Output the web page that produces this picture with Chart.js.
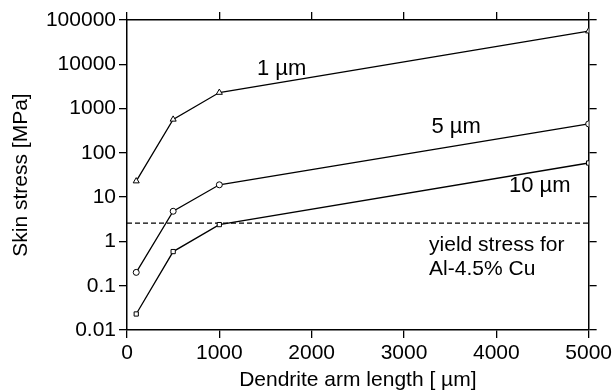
<!DOCTYPE html>
<html><head><meta charset="utf-8">
<script src="https://cdn.jsdelivr.net/npm/chart.js@4"></script>
<style>html,body{margin:0;padding:0;background:#fff}</style>
</head><body>
<canvas id="c" width="615" height="391"></canvas>
<script>
// ---- data ----
const armLength = [100, 500, 1000, 5000];
const stress1um = [23, 570, 2300, 56000];
const stress5um = [0.2, 4.8, 19, 450];
const stress10um = [0.023, 0.59, 2.4, 59];
const yieldX = [0, 5000];
const yieldStress = [2.6, 2.6];
const xTicks = [0, 1000, 2000, 3000, 4000, 5000];
const yTicks = [0.01, 0.1, 1, 10, 100, 1000, 10000, 100000];
const seriesNames = ['1 µm', '5 µm', '10 µm'];
const yieldText = ['yield stress for', 'Al-4.5% Cu'];

const FONT = 'Liberation Sans, Arial, sans-serif';

function pts(xs, ys) { return xs.map((x, i) => ({x: x, y: ys[i]})); }

const annotations = [
  {text: seriesNames[0], x: 1674, y: 7800, align: 'center', size: 22},
  {text: seriesNames[1], x: 3564, y: 385, align: 'center', size: 22},
  {text: seriesNames[2], x: 4471, y: 17.9, align: 'center', size: 22},
  {text: yieldText[0], x: 3272, y: 0.83, align: 'left', size: 21},
  {text: yieldText[1], x: 3272, y: 0.239, align: 'left', size: 21}
];

const annotationPlugin = {
  id: 'annot',
  afterDatasetsDraw(chart) {
    const ctx = chart.ctx, xs = chart.scales.x, ys = chart.scales.y;
    ctx.save();
    ctx.fillStyle = '#000';
    ctx.textBaseline = 'middle';
    annotations.forEach(a => {
      ctx.font = a.size + 'px ' + FONT;
      ctx.textAlign = a.align;
      ctx.fillText(a.text, xs.getPixelForValue(a.x), ys.getPixelForValue(a.y));
    });
    ctx.restore();
  }
};

function series(label, data, style) {
  return {
    label: label, data: data, borderColor: '#000', borderWidth: 1.3,
    pointStyle: style, pointRadius: style === 'triangle' ? 3.5 : 3,
    pointBackgroundColor: '#fff', pointBorderColor: '#000', pointBorderWidth: 1,
    tension: 0, clip: 0, fill: false
  };
}

const setX = s => { s.ticks = xTicks.map(v => ({value: v})); };
const setY = s => { s.ticks = yTicks.map(v => ({value: v})); };
const gridOpts = {drawOnChartArea: false, drawTicks: true, tickLength: 8, color: '#000', lineWidth: 1.3};
const borderOpts = {display: true, color: '#000', width: 1.5};

new Chart(document.getElementById('c'), {
  type: 'line',
  data: {
    datasets: [
      series(seriesNames[0], pts(armLength, stress1um), 'triangle'),
      series(seriesNames[1], pts(armLength, stress5um), 'circle'),
      series(seriesNames[2], pts(armLength, stress10um), 'rect'),
      {label: 'yield', data: pts(yieldX, yieldStress), borderColor: '#000', borderWidth: 1.3,
       borderDash: [5, 3], pointRadius: 0, tension: 0, fill: false}
    ]
  },
  options: {
    responsive: false, animation: false, devicePixelRatio: 1,
    layout: {padding: 0},
    plugins: {legend: {display: false}, tooltip: {enabled: false}},
    scales: {
      x: {
        type: 'linear', position: 'bottom', min: 0, max: 5000,
        afterBuildTicks: setX,
        afterFit: s => { s.height = 61; },
        grid: gridOpts, border: borderOpts,
        ticks: {color: '#000', font: {family: FONT, size: 21}, padding: 3, maxRotation: 0,
                callback: v => String(v)},
        title: {display: true, text: 'Dendrite arm length [ µm]', color: '#000',
                font: {family: FONT, size: 21, lineHeight: 1}, padding: 0}
      },
      x2: {
        type: 'linear', position: 'top', min: 0, max: 5000,
        afterBuildTicks: setX,
        afterFit: s => { s.height = 20; },
        grid: gridOpts, border: borderOpts,
        ticks: {display: false}
      },
      y: {
        type: 'logarithmic', position: 'left', min: 0.01, max: 100000,
        afterBuildTicks: setY,
        afterFit: s => { s.width = 127; },
        grid: gridOpts, border: borderOpts,
        ticks: {color: '#000', font: {family: FONT, size: 21}, padding: 3,
                callback: v => String(v)},
        title: {display: true, text: 'Skin stress [MPa]', color: '#000',
                font: {family: FONT, size: 21, lineHeight: 1}, padding: {top: 11, bottom: 0}}
      },
      y2: {
        type: 'logarithmic', position: 'right', min: 0.01, max: 100000,
        afterBuildTicks: setY,
        afterFit: s => { s.width = 25; },
        grid: gridOpts, border: borderOpts,
        ticks: {display: false}
      }
    }
  },
  plugins: [annotationPlugin]
});
</script>
</body></html>
